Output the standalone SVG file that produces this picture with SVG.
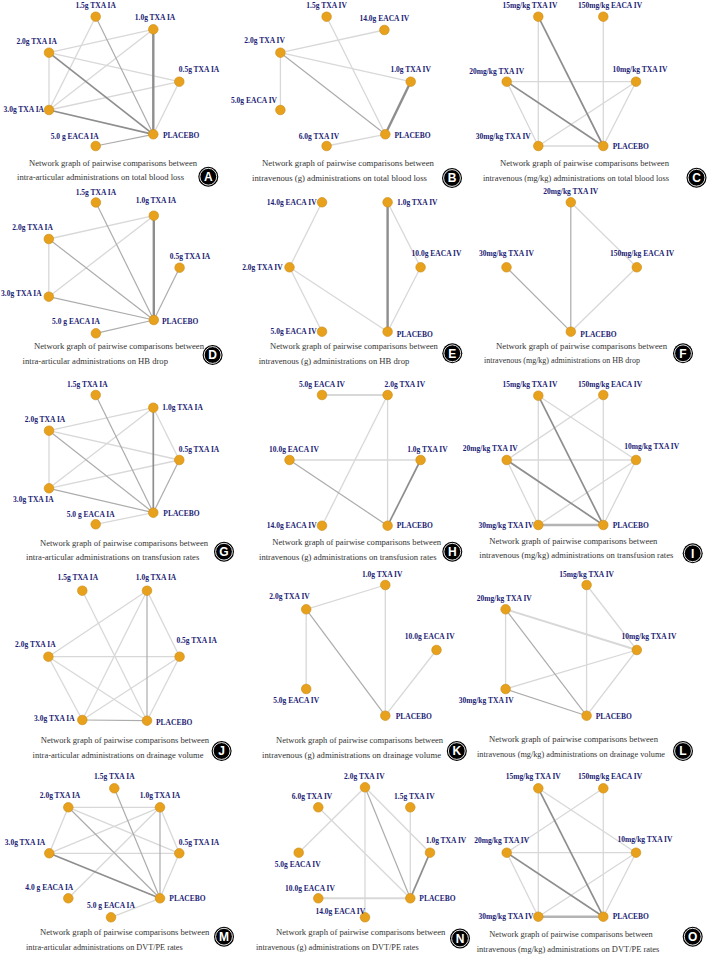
<svg xmlns="http://www.w3.org/2000/svg" width="709" height="955" viewBox="0 0 709 955">
<style>
.e1{stroke:#d8d8d8;stroke-width:1.3;fill:none}
.e1t{stroke:#d8d8d8;stroke-width:2;fill:none}
.e2{stroke:#acacac;stroke-width:1.2;fill:none}
.e3{stroke:#8e8e8e;stroke-width:1.7;fill:none}
.e4{stroke:#8e8e8e;stroke-width:2.4;fill:none}
.e5{stroke:#b4b4b4;stroke-width:2.4;fill:none}
.n{fill:#E8A11C;stroke:#c98a12;stroke-width:0.6}
.l{font-family:"Liberation Serif",serif;font-weight:bold;font-size:7.5px;fill:#1c1c74;text-anchor:middle}
.s{text-anchor:start}
.en{text-anchor:end}
.c{font-family:"Liberation Serif",serif;font-size:8.5px;fill:#333}
.bo{fill:#000}
.bi{fill:none;stroke:#fff;stroke-width:0.9}
.bt{font-family:"Liberation Sans",sans-serif;font-weight:bold;font-size:12px;fill:#fff;text-anchor:middle}
</style>
<rect width="709" height="955" fill="#fff"/>
<g id="connectors">
<g id="edges-A">
<line class="e1" x1="95.7" y1="16.7" x2="49" y2="110"/>
<line class="e1" x1="153.3" y1="29.3" x2="49" y2="52.7"/>
<line class="e1" x1="153.3" y1="29.3" x2="49" y2="110"/>
<line class="e1" x1="49" y1="52.7" x2="179.3" y2="81.7"/>
<line class="e1" x1="49" y1="52.7" x2="49" y2="110"/>
<line class="e1" x1="49" y1="110" x2="179.3" y2="81.7"/>
<line class="e1" x1="179.3" y1="81.7" x2="153.3" y2="134.3"/>
<line class="e2" x1="95.7" y1="16.7" x2="153.3" y2="134.3"/>
<line class="e2" x1="95.7" y1="146" x2="153.3" y2="134.3"/>
<line class="e4" x1="153.3" y1="29.3" x2="153.3" y2="134.3"/>
<line class="e3" x1="49" y1="52.7" x2="153.3" y2="134.3"/>
<line class="e3" x1="49" y1="110" x2="153.3" y2="134.3"/>
</g>
<g id="edges-B">
<line class="e1" x1="326.6" y1="16.7" x2="385.3" y2="134.3"/>
<line class="e1" x1="384.4" y1="30" x2="280.4" y2="52.7"/>
<line class="e1" x1="280.4" y1="52.7" x2="410.7" y2="81.7"/>
<line class="e1" x1="280.4" y1="52.7" x2="280.4" y2="110"/>
<line class="e1" x1="326.6" y1="146" x2="385.3" y2="134.3"/>
<line class="e2" x1="280.4" y1="52.7" x2="385.3" y2="134.3"/>
<line class="e4" x1="410.7" y1="81.7" x2="385.3" y2="134.3"/>
</g>
<g id="edges-C">
<line class="e1" x1="538.3" y1="16.7" x2="538.3" y2="146"/>
<line class="e1" x1="603.3" y1="16.7" x2="603.3" y2="146"/>
<line class="e1" x1="506.7" y1="81.7" x2="636" y2="81.7"/>
<line class="e1" x1="506.7" y1="81.7" x2="538.3" y2="146"/>
<line class="e1" x1="636" y1="81.7" x2="538.3" y2="146"/>
<line class="e1" x1="636" y1="81.7" x2="603.3" y2="146"/>
<line class="e1" x1="538.3" y1="146" x2="603.3" y2="146"/>
<line class="e3" x1="538.3" y1="16.7" x2="603.3" y2="146"/>
<line class="e3" x1="506.7" y1="81.7" x2="603.3" y2="146"/>
</g>
<g id="edges-D">
<line class="e1" x1="153.8" y1="215.7" x2="48.8" y2="239"/>
<line class="e1" x1="153.8" y1="215.7" x2="48.8" y2="296.7"/>
<line class="e1" x1="48.8" y1="239" x2="48.8" y2="296.7"/>
<line class="e2" x1="95.9" y1="202.5" x2="153.8" y2="320"/>
<line class="e2" x1="48.8" y1="239" x2="153.8" y2="320"/>
<line class="e2" x1="179.6" y1="267.7" x2="153.8" y2="320"/>
<line class="e2" x1="48.8" y1="296.7" x2="153.8" y2="320"/>
<line class="e2" x1="95.9" y1="333.3" x2="153.8" y2="320"/>
<line class="e4" x1="153.8" y1="215.7" x2="153.8" y2="320"/>
</g>
<g id="edges-E">
<line class="e1" x1="322" y1="202.3" x2="289.5" y2="267.3"/>
<line class="e1" x1="387.6" y1="202.3" x2="420.6" y2="267.3"/>
<line class="e1" x1="289.5" y1="267.3" x2="322" y2="331.7"/>
<line class="e1" x1="289.5" y1="267.3" x2="387.6" y2="331.7"/>
<line class="e1" x1="420.6" y1="267.3" x2="387.6" y2="331.7"/>
<line class="e4" x1="387.6" y1="202.3" x2="387.6" y2="331.7"/>
</g>
<g id="edges-F">
<line class="e1" x1="570.8" y1="202.3" x2="636.8" y2="267.3"/>
<line class="e1" x1="636.8" y1="267.3" x2="570.8" y2="331.7"/>
<line class="e2" x1="570.8" y1="202.3" x2="570.8" y2="331.7"/>
<line class="e2" x1="506.5" y1="267.3" x2="570.8" y2="331.7"/>
</g>
<g id="edges-G">
<line class="e1" x1="153.3" y1="407.7" x2="49" y2="430.7"/>
<line class="e1" x1="153.3" y1="407.7" x2="49" y2="488.3"/>
<line class="e1" x1="153.3" y1="407.7" x2="179.3" y2="460"/>
<line class="e1" x1="49" y1="430.7" x2="179.3" y2="460"/>
<line class="e1" x1="49" y1="430.7" x2="49" y2="488.3"/>
<line class="e1" x1="179.3" y1="460" x2="49" y2="488.3"/>
<line class="e1" x1="95.7" y1="524.3" x2="153.3" y2="512.7"/>
<line class="e2" x1="95.7" y1="395" x2="153.3" y2="512.7"/>
<line class="e2" x1="49" y1="430.7" x2="153.3" y2="512.7"/>
<line class="e2" x1="179.3" y1="460" x2="153.3" y2="512.7"/>
<line class="e2" x1="49" y1="488.3" x2="153.3" y2="512.7"/>
<line class="e3" x1="153.3" y1="407.7" x2="153.3" y2="512.7"/>
</g>
<g id="edges-H">
<line class="e1t" x1="322" y1="395" x2="387.6" y2="395"/>
<line class="e1" x1="387.6" y1="395" x2="387.6" y2="525.7"/>
<line class="e1" x1="387.6" y1="395" x2="322" y2="525.7"/>
<line class="e1" x1="289.5" y1="460" x2="420.6" y2="460"/>
<line class="e2" x1="289.5" y1="460" x2="387.6" y2="525.7"/>
<line class="e3" x1="420.6" y1="460" x2="387.6" y2="525.7"/>
</g>
<g id="edges-I">
<line class="e1" x1="538.3" y1="395.7" x2="538.3" y2="525"/>
<line class="e1" x1="538.3" y1="395.7" x2="636" y2="460"/>
<line class="e1" x1="603.3" y1="395" x2="506.7" y2="460"/>
<line class="e1" x1="603.3" y1="395" x2="603.3" y2="525"/>
<line class="e1" x1="506.7" y1="460" x2="636" y2="460"/>
<line class="e1" x1="506.7" y1="460" x2="538.3" y2="525"/>
<line class="e1" x1="636" y1="460" x2="538.3" y2="525"/>
<line class="e1" x1="636" y1="460" x2="603.3" y2="525"/>
<line class="e3" x1="538.3" y1="395.7" x2="603.3" y2="525"/>
<line class="e3" x1="506.7" y1="460" x2="603.3" y2="525"/>
<line class="e5" x1="538.3" y1="525" x2="603.3" y2="525"/>
</g>
<g id="edges-J">
<line class="e1" x1="82.3" y1="590.7" x2="147" y2="720.7"/>
<line class="e1" x1="147" y1="590.7" x2="48.4" y2="656.7"/>
<line class="e1" x1="147" y1="590.7" x2="82.3" y2="720"/>
<line class="e1" x1="147" y1="590.7" x2="179.6" y2="656.7"/>
<line class="e1" x1="48.4" y1="656.7" x2="179.6" y2="656.7"/>
<line class="e1" x1="48.4" y1="656.7" x2="82.3" y2="720"/>
<line class="e1" x1="48.4" y1="656.7" x2="147" y2="720.7"/>
<line class="e1" x1="179.6" y1="656.7" x2="82.3" y2="720"/>
<line class="e1" x1="179.6" y1="656.7" x2="147" y2="720.7"/>
<line class="e2" x1="147" y1="590.7" x2="147" y2="720.7"/>
<line class="e2" x1="82.3" y1="720" x2="147" y2="720.7"/>
</g>
<g id="edges-K">
<line class="e1" x1="385.3" y1="585" x2="306.2" y2="609.3"/>
<line class="e1" x1="385.3" y1="585" x2="385.3" y2="715.7"/>
<line class="e1" x1="306.2" y1="609.3" x2="306.2" y2="689"/>
<line class="e1" x1="436.5" y1="650" x2="385.3" y2="715.7"/>
<line class="e2" x1="306.2" y1="609.3" x2="385.3" y2="715.7"/>
</g>
<g id="edges-L">
<line class="e1" x1="586.6" y1="585" x2="636.8" y2="650"/>
<line class="e1" x1="586.6" y1="585" x2="586.6" y2="715.7"/>
<line class="e1t" x1="505.6" y1="609.3" x2="636.8" y2="650"/>
<line class="e1" x1="505.6" y1="609.3" x2="505.6" y2="689"/>
<line class="e1" x1="636.8" y1="650" x2="505.6" y2="689"/>
<line class="e1" x1="636.8" y1="650" x2="586.6" y2="715.7"/>
<line class="e2" x1="505.6" y1="609.3" x2="586.6" y2="715.7"/>
<line class="e2" x1="505.6" y1="689" x2="586.6" y2="715.7"/>
</g>
<g id="edges-M">
<line class="e1" x1="68.3" y1="807.3" x2="160" y2="807.3"/>
<line class="e1" x1="68.3" y1="807.3" x2="49.3" y2="853.3"/>
<line class="e1" x1="68.3" y1="807.3" x2="179.3" y2="853.3"/>
<line class="e1" x1="160" y1="807.3" x2="49.3" y2="853.3"/>
<line class="e1" x1="160" y1="807.3" x2="179.3" y2="853.3"/>
<line class="e1" x1="160" y1="807.3" x2="68.3" y2="898.3"/>
<line class="e1" x1="49.3" y1="853.3" x2="179.3" y2="853.3"/>
<line class="e1" x1="179.3" y1="853.3" x2="160" y2="898.3"/>
<line class="e1" x1="111" y1="917.3" x2="160" y2="898.3"/>
<line class="e2" x1="114.3" y1="788.3" x2="160" y2="898.3"/>
<line class="e2" x1="68.3" y1="807.3" x2="160" y2="898.3"/>
<line class="e2" x1="160" y1="807.3" x2="160" y2="898.3"/>
<line class="e3" x1="49.3" y1="853.3" x2="160" y2="898.3"/>
</g>
<g id="edges-N">
<line class="e1" x1="365" y1="787.3" x2="298.7" y2="852.7"/>
<line class="e1" x1="365" y1="787.3" x2="365" y2="917.3"/>
<line class="e1" x1="365" y1="787.3" x2="430" y2="852.7"/>
<line class="e1" x1="318.3" y1="807.3" x2="410.3" y2="898.3"/>
<line class="e1" x1="410.3" y1="807.3" x2="410.3" y2="898.3"/>
<line class="e1t" x1="318.3" y1="898.3" x2="410.3" y2="898.3"/>
<line class="e2" x1="365" y1="787.3" x2="410.3" y2="898.3"/>
<line class="e3" x1="430" y1="852.7" x2="410.3" y2="898.3"/>
</g>
<g id="edges-O">
<line class="e1" x1="538.3" y1="788.3" x2="538.3" y2="916.7"/>
<line class="e1" x1="538.3" y1="788.3" x2="636" y2="852.7"/>
<line class="e1" x1="603.3" y1="788.3" x2="506.7" y2="852.7"/>
<line class="e1" x1="603.3" y1="788.3" x2="603.3" y2="916.7"/>
<line class="e1" x1="506.7" y1="852.7" x2="636" y2="852.7"/>
<line class="e1" x1="506.7" y1="852.7" x2="538.3" y2="916.7"/>
<line class="e1" x1="636" y1="852.7" x2="538.3" y2="916.7"/>
<line class="e1" x1="636" y1="852.7" x2="603.3" y2="916.7"/>
<line class="e3" x1="538.3" y1="788.3" x2="603.3" y2="916.7"/>
<line class="e3" x1="506.7" y1="852.7" x2="603.3" y2="916.7"/>
<line class="e5" x1="538.3" y1="916.7" x2="603.3" y2="916.7"/>
</g>
</g>

<!-- Panel A -->
<g id="A-15TXA"><circle class="n" cx="95.7" cy="16.7" r="4.8"/><text class="l" x="95.7" y="8.3">1.5g TXA IA</text></g>
<g id="A-10TXA"><circle class="n" cx="153.3" cy="29.3" r="4.8"/><text class="l" x="155" y="20">1.0g TXA IA</text></g>
<g id="A-20TXA"><circle class="n" cx="49" cy="52.7" r="4.8"/><text class="l" x="36.7" y="44">2.0g TXA IA</text></g>
<g id="A-05TXA"><circle class="n" cx="179.3" cy="81.7" r="4.8"/><text class="l" x="199" y="71.6">0.5g TXA IA</text></g>
<g id="A-30TXA"><circle class="n" cx="49" cy="110" r="4.8"/><text class="l en" x="44" y="112.3">3.0g TXA IA</text></g>
<g id="A-PLACEBO"><circle class="n" cx="153.3" cy="134.3" r="4.8"/><text class="l s" x="163" y="137.6">PLACEBO</text></g>
<g id="A-50EACA"><circle class="n" cx="95.7" cy="146" r="4.8"/><text class="l" x="74.7" y="138.6">5.0 g EACA IA</text></g>
<g id="A-caption"><text class="c" x="29" y="165.5" textLength="168" lengthAdjust="spacingAndGlyphs">Network graph of pairwise comparisons between</text><text class="c" x="17" y="180" textLength="167" lengthAdjust="spacingAndGlyphs">intra-articular administrations on total blood loss</text>
<circle class="bo" cx="208.3" cy="176.7" r="10"/><circle class="bi" cx="208.3" cy="176.7" r="8.4"/><text class="bt" x="208.3" y="181">A</text></g>

<!-- Panel B -->
<g id="B-15TXA"><circle class="n" cx="326.6" cy="16.7" r="4.8"/><text class="l" x="326.6" y="8.3">1.5g TXA IV</text></g>
<g id="B-140EACA"><circle class="n" cx="384.4" cy="30" r="4.8"/><text class="l" x="384.4" y="21">14.0g EACA IV</text></g>
<g id="B-20TXA"><circle class="n" cx="280.4" cy="52.7" r="4.8"/><text class="l" x="264.6" y="42.6">2.0g TXA IV</text></g>
<g id="B-10TXA"><circle class="n" cx="410.7" cy="81.7" r="4.8"/><text class="l" x="410.7" y="72">1.0g TXA IV</text></g>
<g id="B-50EACA"><circle class="n" cx="280.4" cy="110" r="4.8"/><text class="l" x="254" y="102.6">5.0g EACA IV</text></g>
<g id="B-60TXA"><circle class="n" cx="326.6" cy="146" r="4.8"/><text class="l" x="318.9" y="138.6">6.0g TXA IV</text></g>
<g id="B-PLACEBO"><circle class="n" cx="385.3" cy="134.3" r="4.8"/><text class="l s" x="394.4" y="137.6">PLACEBO</text></g>
<g id="B-caption"><text class="c" x="262" y="166" textLength="172" lengthAdjust="spacingAndGlyphs">Network graph of pairwise comparisons between</text><text class="c" x="252" y="180.5" textLength="175" lengthAdjust="spacingAndGlyphs">intravenous (g) administrations on total blood loss</text>
<circle class="bo" cx="452" cy="178" r="10"/><circle class="bi" cx="452" cy="178" r="8.4"/><text class="bt" x="452" y="182.3">B</text></g>

<!-- Panel C -->
<g id="C-15TXA"><circle class="n" cx="538.3" cy="16.7" r="4.8"/><text class="l" x="530" y="7.6">15mg/kg TXA IV</text></g>
<g id="C-150EACA"><circle class="n" cx="603.3" cy="16.7" r="4.8"/><text class="l" x="610" y="7.6">150mg/kg EACA IV</text></g>
<g id="C-20TXA"><circle class="n" cx="506.7" cy="81.7" r="4.8"/><text class="l" x="496.7" y="73.6">20mg/kg TXA IV</text></g>
<g id="C-10TXA"><circle class="n" cx="636" cy="81.7" r="4.8"/><text class="l" x="640" y="72">10mg/kg TXA IV</text></g>
<g id="C-30TXA"><circle class="n" cx="538.3" cy="146" r="4.8"/><text class="l" x="503.3" y="139.3">30mg/kg TXA IV</text></g>
<g id="C-PLACEBO"><circle class="n" cx="603.3" cy="146" r="4.8"/><text class="l s" x="612.7" y="149.3">PLACEBO</text></g>
<g id="C-caption"><text class="c" x="500" y="166" textLength="169" lengthAdjust="spacingAndGlyphs">Network graph of pairwise comparisons between</text><text class="c" x="483" y="180.5" textLength="186" lengthAdjust="spacingAndGlyphs">intravenous (mg/kg) administrations on total blood loss</text>
<circle class="bo" cx="696.5" cy="177.7" r="10"/><circle class="bi" cx="696.5" cy="177.7" r="8.4"/><text class="bt" x="696.5" y="182">C</text></g>

<!-- Panel D -->
<g id="D-15TXA"><circle class="n" cx="95.9" cy="202.5" r="4.8"/><text class="l" x="95.9" y="194.5">1.5g TXA IA</text></g>
<g id="D-10TXA"><circle class="n" cx="153.8" cy="215.7" r="4.8"/><text class="l" x="156" y="203.3">1.0g TXA IA</text></g>
<g id="D-20TXA"><circle class="n" cx="48.8" cy="239" r="4.8"/><text class="l" x="32.6" y="230">2.0g TXA IA</text></g>
<g id="D-05TXA"><circle class="n" cx="179.6" cy="267.7" r="4.8"/><text class="l" x="190" y="259.3">0.5g TXA IA</text></g>
<g id="D-30TXA"><circle class="n" cx="48.8" cy="296.7" r="4.8"/><text class="l en" x="41.6" y="296">3.0g TXA IA</text></g>
<g id="D-PLACEBO"><circle class="n" cx="153.8" cy="320" r="4.8"/><text class="l s" x="162" y="323.6">PLACEBO</text></g>
<g id="D-50EACA"><circle class="n" cx="95.9" cy="333.3" r="4.8"/><text class="l" x="76" y="324.3">5.0 g EACA IA</text></g>
<g id="D-caption"><text class="c" x="34" y="349.3" textLength="170" lengthAdjust="spacingAndGlyphs">Network graph of pairwise comparisons between</text><text class="c" x="22.6" y="363.6" textLength="145.4" lengthAdjust="spacingAndGlyphs">intra-articular administrations on HB drop</text>
<circle class="bo" cx="212.6" cy="355" r="10"/><circle class="bi" cx="212.6" cy="355" r="8.4"/><text class="bt" x="212.6" y="359.3">D</text></g>

<!-- Panel E -->
<g id="E-140EACA"><circle class="n" cx="322" cy="202.3" r="4.8"/><text class="l en" x="316.6" y="205">14.0g EACA IV</text></g>
<g id="E-10TXA"><circle class="n" cx="387.6" cy="202.3" r="4.8"/><text class="l s" x="397" y="205">1.0g TXA IV</text></g>
<g id="E-20TXA"><circle class="n" cx="289.5" cy="267.3" r="4.8"/><text class="l en" x="282.7" y="270">2.0g TXA IV</text></g>
<g id="E-100EACA"><circle class="n" cx="420.6" cy="267.3" r="4.8"/><text class="l" x="436.5" y="256">10.0g EACA IV</text></g>
<g id="E-50EACA"><circle class="n" cx="322" cy="331.7" r="4.8"/><text class="l en" x="316.6" y="334.3">5.0g EACA IV</text></g>
<g id="E-PLACEBO"><circle class="n" cx="387.6" cy="331.7" r="4.8"/><text class="l s" x="396.7" y="336.6">PLACEBO</text></g>
<g id="E-caption"><text class="c" x="270" y="348.6" textLength="167.8" lengthAdjust="spacingAndGlyphs">Network graph of pairwise comparisons between</text><text class="c" x="258.7" y="363.6" textLength="150.6" lengthAdjust="spacingAndGlyphs">intravenous (g) administrations on HB drop</text>
<circle class="bo" cx="452.3" cy="353.3" r="10"/><circle class="bi" cx="452.3" cy="353.3" r="8.4"/><text class="bt" x="452.3" y="357.6">E</text></g>

<!-- Panel F -->
<g id="F-20TXA"><circle class="n" cx="570.8" cy="202.3" r="4.8"/><text class="l" x="570.8" y="193.6">20mg/kg TXA IV</text></g>
<g id="F-30TXA"><circle class="n" cx="506.5" cy="267.3" r="4.8"/><text class="l" x="506.5" y="256">30mg/kg TXA IV</text></g>
<g id="F-150EACA"><circle class="n" cx="636.8" cy="267.3" r="4.8"/><text class="l" x="642.2" y="256">150mg/kg EACA IV</text></g>
<g id="F-PLACEBO"><circle class="n" cx="570.8" cy="331.7" r="4.8"/><text class="l s" x="580.3" y="336.6">PLACEBO</text></g>
<g id="F-caption"><text class="c" x="496" y="348.6" textLength="171" lengthAdjust="spacingAndGlyphs">Network graph of pairwise comparisons between</text><text class="c" x="484" y="363.3" textLength="156" lengthAdjust="spacingAndGlyphs">intravenous (mg/kg) administrations on HB drop</text>
<circle class="bo" cx="683" cy="353.3" r="10"/><circle class="bi" cx="683" cy="353.3" r="8.4"/><text class="bt" x="683" y="357.6">F</text></g>

<!-- Panel G -->
<g id="G-15TXA"><circle class="n" cx="95.7" cy="395" r="4.8"/><text class="l" x="87.3" y="386.6">1.5g TXA IA</text></g>
<g id="G-10TXA"><circle class="n" cx="153.3" cy="407.7" r="4.8"/><text class="l s" x="162.3" y="410.3">1.0g TXA IA</text></g>
<g id="G-20TXA"><circle class="n" cx="49" cy="430.7" r="4.8"/><text class="l" x="45" y="422">2.0g TXA IA</text></g>
<g id="G-05TXA"><circle class="n" cx="179.3" cy="460" r="4.8"/><text class="l" x="199" y="452">0.5g TXA IA</text></g>
<g id="G-30TXA"><circle class="n" cx="49" cy="488.3" r="4.8"/><text class="l" x="33.3" y="502">3.0g TXA IA</text></g>
<g id="G-PLACEBO"><circle class="n" cx="153.3" cy="512.7" r="4.8"/><text class="l s" x="163.3" y="516">PLACEBO</text></g>
<g id="G-50EACA"><circle class="n" cx="95.7" cy="524.3" r="4.8"/><text class="l" x="90.7" y="517">5.0 g EACA IA</text></g>
<g id="G-caption"><text class="c" x="40" y="546" textLength="168" lengthAdjust="spacingAndGlyphs">Network graph of pairwise comparisons between</text><text class="c" x="26" y="560.4" textLength="173.3" lengthAdjust="spacingAndGlyphs">intra-articular administrations on transfusion rates</text>
<circle class="bo" cx="224" cy="551.7" r="10"/><circle class="bi" cx="224" cy="551.7" r="8.4"/><text class="bt" x="224" y="556">G</text></g>

<!-- Panel H -->
<g id="H-50EACA"><circle class="n" cx="322" cy="395" r="4.8"/><text class="l" x="322" y="386.6">5.0g EACA IV</text></g>
<g id="H-20TXA"><circle class="n" cx="387.6" cy="395" r="4.8"/><text class="l" x="404.8" y="386.6">2.0g TXA IV</text></g>
<g id="H-100EACA"><circle class="n" cx="289.5" cy="460" r="4.8"/><text class="l" x="294" y="451.6">10.0g EACA IV</text></g>
<g id="H-10TXA"><circle class="n" cx="420.6" cy="460" r="4.8"/><text class="l" x="427.4" y="451.6">1.0g TXA IV</text></g>
<g id="H-140EACA"><circle class="n" cx="322" cy="525.7" r="4.8"/><text class="l en" x="316.6" y="528.3">14.0g EACA IV</text></g>
<g id="H-PLACEBO"><circle class="n" cx="387.6" cy="525.7" r="4.8"/><text class="l s" x="396.7" y="528.3">PLACEBO</text></g>
<g id="H-caption"><text class="c" x="272.3" y="545" textLength="168.7" lengthAdjust="spacingAndGlyphs">Network graph of pairwise comparisons between</text><text class="c" x="259" y="560" textLength="177.5" lengthAdjust="spacingAndGlyphs">intravenous (g) administrations on transfusion rates</text>
<circle class="bo" cx="452.3" cy="551.7" r="10"/><circle class="bi" cx="452.3" cy="551.7" r="8.4"/><text class="bt" x="452.3" y="556">H</text></g>

<!-- Panel I -->
<g id="I-15TXA"><circle class="n" cx="538.3" cy="395.7" r="4.8"/><text class="l" x="530" y="386.6">15mg/kg TXA IV</text></g>
<g id="I-150EACA"><circle class="n" cx="603.3" cy="395" r="4.8"/><text class="l" x="610" y="386.6">150mg/kg EACA IV</text></g>
<g id="I-20TXA"><circle class="n" cx="506.7" cy="460" r="4.8"/><text class="l" x="490.3" y="451">20mg/kg TXA IV</text></g>
<g id="I-10TXA"><circle class="n" cx="636" cy="460" r="4.8"/><text class="l" x="651.7" y="448.6">10mg/kg TXA IV</text></g>
<g id="I-30TXA"><circle class="n" cx="538.3" cy="525" r="4.8"/><text class="l en" x="533.3" y="528.3">30mg/kg TXA IV</text></g>
<g id="I-PLACEBO"><circle class="n" cx="603.3" cy="525" r="4.8"/><text class="l s" x="612.7" y="528.3">PLACEBO</text></g>
<g id="I-caption"><text class="c" x="489.3" y="543.6" textLength="168" lengthAdjust="spacingAndGlyphs">Network graph of pairwise comparisons between</text><text class="c" x="479.3" y="558.3" textLength="194" lengthAdjust="spacingAndGlyphs">intravenous (mg/kg) administrations on transfusion rates</text>
<circle class="bo" cx="692.7" cy="553.3" r="10"/><circle class="bi" cx="692.7" cy="553.3" r="8.4"/><text class="bt" x="692.7" y="557.6">I</text></g>

<!-- Panel J -->
<g id="J-15TXA"><circle class="n" cx="82.3" cy="590.7" r="4.8"/><text class="l" x="77.8" y="580">1.5g TXA IA</text></g>
<g id="J-10TXA"><circle class="n" cx="147" cy="590.7" r="4.8"/><text class="l" x="156" y="580">1.0g TXA IA</text></g>
<g id="J-20TXA"><circle class="n" cx="48.4" cy="656.7" r="4.8"/><text class="l" x="35.3" y="646.6">2.0g TXA IA</text></g>
<g id="J-05TXA"><circle class="n" cx="179.6" cy="656.7" r="4.8"/><text class="l" x="196.7" y="643.3">0.5g TXA IA</text></g>
<g id="J-30TXA"><circle class="n" cx="82.3" cy="720" r="4.8"/><text class="l en" x="74.6" y="721">3.0g TXA IA</text></g>
<g id="J-PLACEBO"><circle class="n" cx="147" cy="720.7" r="4.8"/><text class="l s" x="156" y="725">PLACEBO</text></g>
<g id="J-caption"><text class="c" x="40.7" y="743.3" textLength="168.3" lengthAdjust="spacingAndGlyphs">Network graph of pairwise comparisons between</text><text class="c" x="32.6" y="757.6" textLength="170.9" lengthAdjust="spacingAndGlyphs">intra-articular administrations on drainage volume</text>
<circle class="bo" cx="221.6" cy="751" r="10"/><circle class="bi" cx="221.6" cy="751" r="8.4"/><text class="bt" x="221.6" y="755.3">J</text></g>

<!-- Panel K -->
<g id="K-10TXA"><circle class="n" cx="385.3" cy="585" r="4.8"/><text class="l" x="382.2" y="576.6">1.0g TXA IV</text></g>
<g id="K-20TXA"><circle class="n" cx="306.2" cy="609.3" r="4.8"/><text class="l" x="289.5" y="599.3">2.0g TXA IV</text></g>
<g id="K-100EACA"><circle class="n" cx="436.5" cy="650" r="4.8"/><text class="l" x="429.7" y="639.3">10.0g EACA IV</text></g>
<g id="K-50EACA"><circle class="n" cx="306.2" cy="689" r="4.8"/><text class="l" x="296.2" y="703.3">5.0g EACA IV</text></g>
<g id="K-PLACEBO"><circle class="n" cx="385.3" cy="715.7" r="4.8"/><text class="l s" x="395.7" y="719.3">PLACEBO</text></g>
<g id="K-caption"><text class="c" x="276" y="743.3" textLength="167" lengthAdjust="spacingAndGlyphs">Network graph of pairwise comparisons between</text><text class="c" x="262" y="757.6" textLength="179" lengthAdjust="spacingAndGlyphs">intravenous (g) administrations on drainage volume</text>
<circle class="bo" cx="456.8" cy="751" r="10"/><circle class="bi" cx="456.8" cy="751" r="8.4"/><text class="bt" x="456.8" y="755.3">K</text></g>

<!-- Panel L -->
<g id="L-15TXA"><circle class="n" cx="586.6" cy="585" r="4.8"/><text class="l" x="586.6" y="576.6">15mg/kg TXA IV</text></g>
<g id="L-20TXA"><circle class="n" cx="505.6" cy="609.3" r="4.8"/><text class="l" x="504.3" y="600.5">20mg/kg TXA IV</text></g>
<g id="L-10TXA"><circle class="n" cx="636.8" cy="650" r="4.8"/><text class="l" x="649" y="639.3">10mg/kg TXA IV</text></g>
<g id="L-30TXA"><circle class="n" cx="505.6" cy="689" r="4.8"/><text class="l" x="486.2" y="703.3">30mg/kg TXA IV</text></g>
<g id="L-PLACEBO"><circle class="n" cx="586.6" cy="715.7" r="4.8"/><text class="l s" x="595.7" y="719.3">PLACEBO</text></g>
<g id="L-caption"><text class="c" x="489" y="741.6" textLength="169" lengthAdjust="spacingAndGlyphs">Network graph of pairwise comparisons between</text><text class="c" x="477" y="757" textLength="188" lengthAdjust="spacingAndGlyphs">intravenous (mg/kg) administrations on drainage volume</text>
<circle class="bo" cx="683" cy="751" r="10"/><circle class="bi" cx="683" cy="751" r="8.4"/><text class="bt" x="683" y="755.3">L</text></g>

<!-- Panel M -->
<g id="M-15TXA"><circle class="n" cx="114.3" cy="788.3" r="4.8"/><text class="l" x="114.3" y="779.3">1.5g TXA IA</text></g>
<g id="M-20TXA"><circle class="n" cx="68.3" cy="807.3" r="4.8"/><text class="l" x="60" y="797.6">2.0g TXA IA</text></g>
<g id="M-10TXA"><circle class="n" cx="160" cy="807.3" r="4.8"/><text class="l" x="160" y="797.6">1.0g TXA IA</text></g>
<g id="M-30TXA"><circle class="n" cx="49.3" cy="853.3" r="4.8"/><text class="l" x="25" y="845">3.0g TXA IA</text></g>
<g id="M-05TXA"><circle class="n" cx="179.3" cy="853.3" r="4.8"/><text class="l" x="199" y="845">0.5g TXA IA</text></g>
<g id="M-40EACA"><circle class="n" cx="68.3" cy="898.3" r="4.8"/><text class="l" x="49.3" y="890.3">4.0 g EACA IA</text></g>
<g id="M-PLACEBO"><circle class="n" cx="160" cy="898.3" r="4.8"/><text class="l s" x="169.3" y="901.3">PLACEBO</text></g>
<g id="M-50EACA"><circle class="n" cx="111" cy="917.3" r="4.8"/><text class="l" x="111" y="908.3">5.0 g EACA IA</text></g>
<g id="M-caption"><text class="c" x="40" y="935.3" textLength="169.3" lengthAdjust="spacingAndGlyphs">Network graph of pairwise comparisons between</text><text class="c" x="26" y="950" textLength="156.7" lengthAdjust="spacingAndGlyphs">intra-articular administrations on DVT/PE rates</text>
<circle class="bo" cx="224" cy="936.7" r="10"/><circle class="bi" cx="224" cy="936.7" r="8.4"/><text class="bt" x="224" y="941">M</text></g>

<!-- Panel N -->
<g id="N-20TXA"><circle class="n" cx="365" cy="787.3" r="4.8"/><text class="l" x="364.3" y="778.6">2.0g TXA IV</text></g>
<g id="N-60TXA"><circle class="n" cx="318.3" cy="807.3" r="4.8"/><text class="l" x="312" y="798.6">6.0g TXA IV</text></g>
<g id="N-15TXA"><circle class="n" cx="410.3" cy="807.3" r="4.8"/><text class="l" x="414.3" y="798.6">1.5g TXA IV</text></g>
<g id="N-10TXA"><circle class="n" cx="430" cy="852.7" r="4.8"/><text class="l" x="446" y="843.3">1.0g TXA IV</text></g>
<g id="N-50EACA"><circle class="n" cx="298.7" cy="852.7" r="4.8"/><text class="l" x="297.7" y="866.6">5.0g EACA IV</text></g>
<g id="N-100EACA"><circle class="n" cx="318.3" cy="898.3" r="4.8"/><text class="l" x="310" y="891">10.0g EACA IV</text></g>
<g id="N-PLACEBO"><circle class="n" cx="410.3" cy="898.3" r="4.8"/><text class="l s" x="419.3" y="901.3">PLACEBO</text></g>
<g id="N-140EACA"><circle class="n" cx="365" cy="917.3" r="4.8"/><text class="l" x="340.3" y="914.3">14.0g EACA IV</text></g>
<g id="N-caption"><text class="c" x="276" y="935.3" textLength="169.3" lengthAdjust="spacingAndGlyphs">Network graph of pairwise comparisons between</text><text class="c" x="256" y="950" textLength="162.7" lengthAdjust="spacingAndGlyphs">intravenous (g) administrations on DVT/PE rates</text>
<circle class="bo" cx="460" cy="938.5" r="10"/><circle class="bi" cx="460" cy="938.5" r="8.4"/><text class="bt" x="460" y="942.8">N</text></g>

<!-- Panel O -->
<g id="O-15TXA"><circle class="n" cx="538.3" cy="788.3" r="4.8"/><text class="l" x="533.3" y="778.6">15mg/kg TXA IV</text></g>
<g id="O-150EACA"><circle class="n" cx="603.3" cy="788.3" r="4.8"/><text class="l" x="610" y="778.6">150mg/kg EACA IV</text></g>
<g id="O-20TXA"><circle class="n" cx="506.7" cy="852.7" r="4.8"/><text class="l" x="501.7" y="842.6">20mg/kg TXA IV</text></g>
<g id="O-10TXA"><circle class="n" cx="636" cy="852.7" r="4.8"/><text class="l" x="645" y="841.6">10mg/kg TXA IV</text></g>
<g id="O-30TXA"><circle class="n" cx="538.3" cy="916.7" r="4.8"/><text class="l en" x="533.3" y="919.3">30mg/kg TXA IV</text></g>
<g id="O-PLACEBO"><circle class="n" cx="603.3" cy="916.7" r="4.8"/><text class="l s" x="612.7" y="919.3">PLACEBO</text></g>
<g id="O-caption"><text class="c" x="489.3" y="937" textLength="163.4" lengthAdjust="spacingAndGlyphs">Network graph of pairwise comparisons between</text><text class="c" x="476.7" y="951.9" textLength="182.6" lengthAdjust="spacingAndGlyphs">intravenous (mg/kg) administrations on DVT/PE rates</text>
<circle class="bo" cx="692.7" cy="936.7" r="10"/><circle class="bi" cx="692.7" cy="936.7" r="8.4"/><text class="bt" x="692.7" y="941">O</text></g>
</svg>
